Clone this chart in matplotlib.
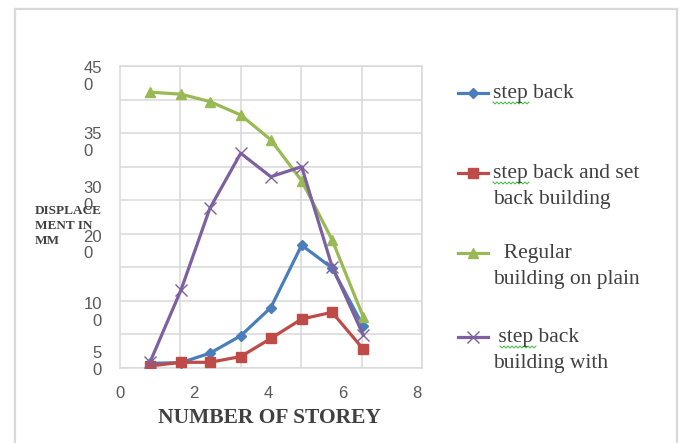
import numpy as np
import matplotlib
matplotlib.use("Agg")
import matplotlib.pyplot as plt
from matplotlib.lines import Line2D

# data
storey = [0.81, 1.64, 2.42, 3.25, 4.06, 4.89, 5.71, 6.55]
step_back = [7, 8, 22, 48, 90, 183, 149, 62]
step_set_back = [3, 8.5, 8.5, 17, 44, 73, 83, 28]
regular = [411, 408, 397, 377, 340, 279, 191, 76]
step_back_with = [9, 116, 238, 320, 285, 300, 151, 49]

series_names = ["step back", "step back and set\nback building",
                "  Regular\nbuilding on plain", " step back\nbuilding with"]
series_colors = ["#4A7EBB", "#BE4B48", "#98B954", "#7D60A0"]
series_markers = ["D", "s", "^", "x"]

# y tick labels as they appear (wrapped) and where they sit
ytick_text = ["45\n0", "35\n0", "30\n0", "20\n0", "10\n0", "5\n0"]
ytick_pos = [437, 339, 258, 186, 86, 12]
xtick_vals = [0, 2, 4, 6, 8]

W, H = 680, 443
fig = plt.figure(figsize=(W / 100, H / 100), dpi=100)
fig.patch.set_facecolor("white")

# outer chart border
bc = "#d9d9d9"
for xs, ys in [([15, 15], [9, H]), ([15, 677], [9, 9]), ([677, 677], [9, H])]:
    fig.add_artist(Line2D([x / W for x in xs], [1 - y / H for y in ys],
                          color=bc, lw=1.6, transform=fig.transFigure))

ax = fig.add_axes([120 / W, 1 - 368 / H, 302 / W, 302 / H])
xmax = 8.13
ax.set_xlim(0, xmax)
ax.set_ylim(0, 450)

grid_c = "#d9d9d9"
ax.set_yticks(np.arange(0, 451, 50))
ax.set_yticklabels([])
ax.set_yticks(ytick_pos, labels=ytick_text, minor=True)
ax.set_xticks(xtick_vals)
ax.set_xticks(np.linspace(0, xmax, 6), minor=True)
ax.grid(True, which="major", axis="y", color=grid_c, lw=1.1)
ax.grid(True, which="minor", axis="x", color=grid_c, lw=1.1)
ax.set_axisbelow(True)
for s in ax.spines.values():
    s.set_color(grid_c)
    s.set_linewidth(1.1)
ax.tick_params(which="both", length=0, colors="#595959")
ax.tick_params(axis="x", which="major", labelsize=12, pad=13)
ax.tick_params(axis="y", which="minor", labelsize=12, pad=13)
for t in ax.get_yticklabels(minor=True):
    t.set_fontfamily("Liberation Sans")
    t.set_linespacing(1.15)
    t.set_multialignment("right" if t.get_text() == "10\n0" else "left")
for t in ax.get_xticklabels():
    t.set_fontfamily("Liberation Sans")

all_series = [step_back, step_set_back, regular, step_back_with]
for vals, c, m in zip(all_series, series_colors, series_markers):
    if m == "x":
        ax.plot(storey, vals, color=c, lw=2.3, marker=m, ms=8, mew=1.0, zorder=3)
    else:
        ms = 5.5 if m == "D" else 7
        ax.plot(storey, vals, color=c, lw=2.3, marker=m, ms=ms, mec=c, zorder=3)

# axis titles
fig.text(270 / W, 1 - 418 / H, "NUMBER OF STOREY", ha="center", va="center",
         family="Liberation Serif", weight="bold", fontsize=15.5, color="#404040")
fig.text(35 / W, 1 - 226 / H, "DISPLACE\nMENT IN\nMM", ha="left", va="center",
         family="Liberation Serif", weight="bold", fontsize=9.5, color="#404040",
         linespacing=1.3)

# legend, drawn by hand
leg_y = [93, 173, 253, 337]
leg_txt_x = [493, 493, 493, 493]
for name, c, m, y, tx in zip(series_names, series_colors, series_markers, leg_y, leg_txt_x):
    fy = 1 - y / H
    fig.add_artist(Line2D([458 / W, 488 / W], [fy, fy], color=c, lw=2.3,
                          transform=fig.transFigure))
    ms = 5.5 if m == "D" else (8 if m == "x" else 7)
    fig.add_artist(Line2D([473 / W], [fy], color=c, marker=m, ms=ms, mew=1.0 if m == "x" else 1,
                          mec=c, transform=fig.transFigure))
    fig.text(tx / W, fy + 9 / H, name, ha="left", va="top", family="Liberation Serif",
             fontsize=15.5, color="#404040", linespacing=1.5)

# spell-check squiggles under "step"
for x0, y0 in [(493, 103), (493, 183), (500, 347)]:
    xs = np.arange(x0, x0 + 37, 2.0)
    ys = y0 + np.where(np.arange(len(xs)) % 2 == 0, -1.0, 1.0)
    fig.add_artist(Line2D(xs / W, 1 - ys / H, color="#3cb43c", lw=0.7,
                          transform=fig.transFigure))

fig.savefig("out.png", dpi=100)
